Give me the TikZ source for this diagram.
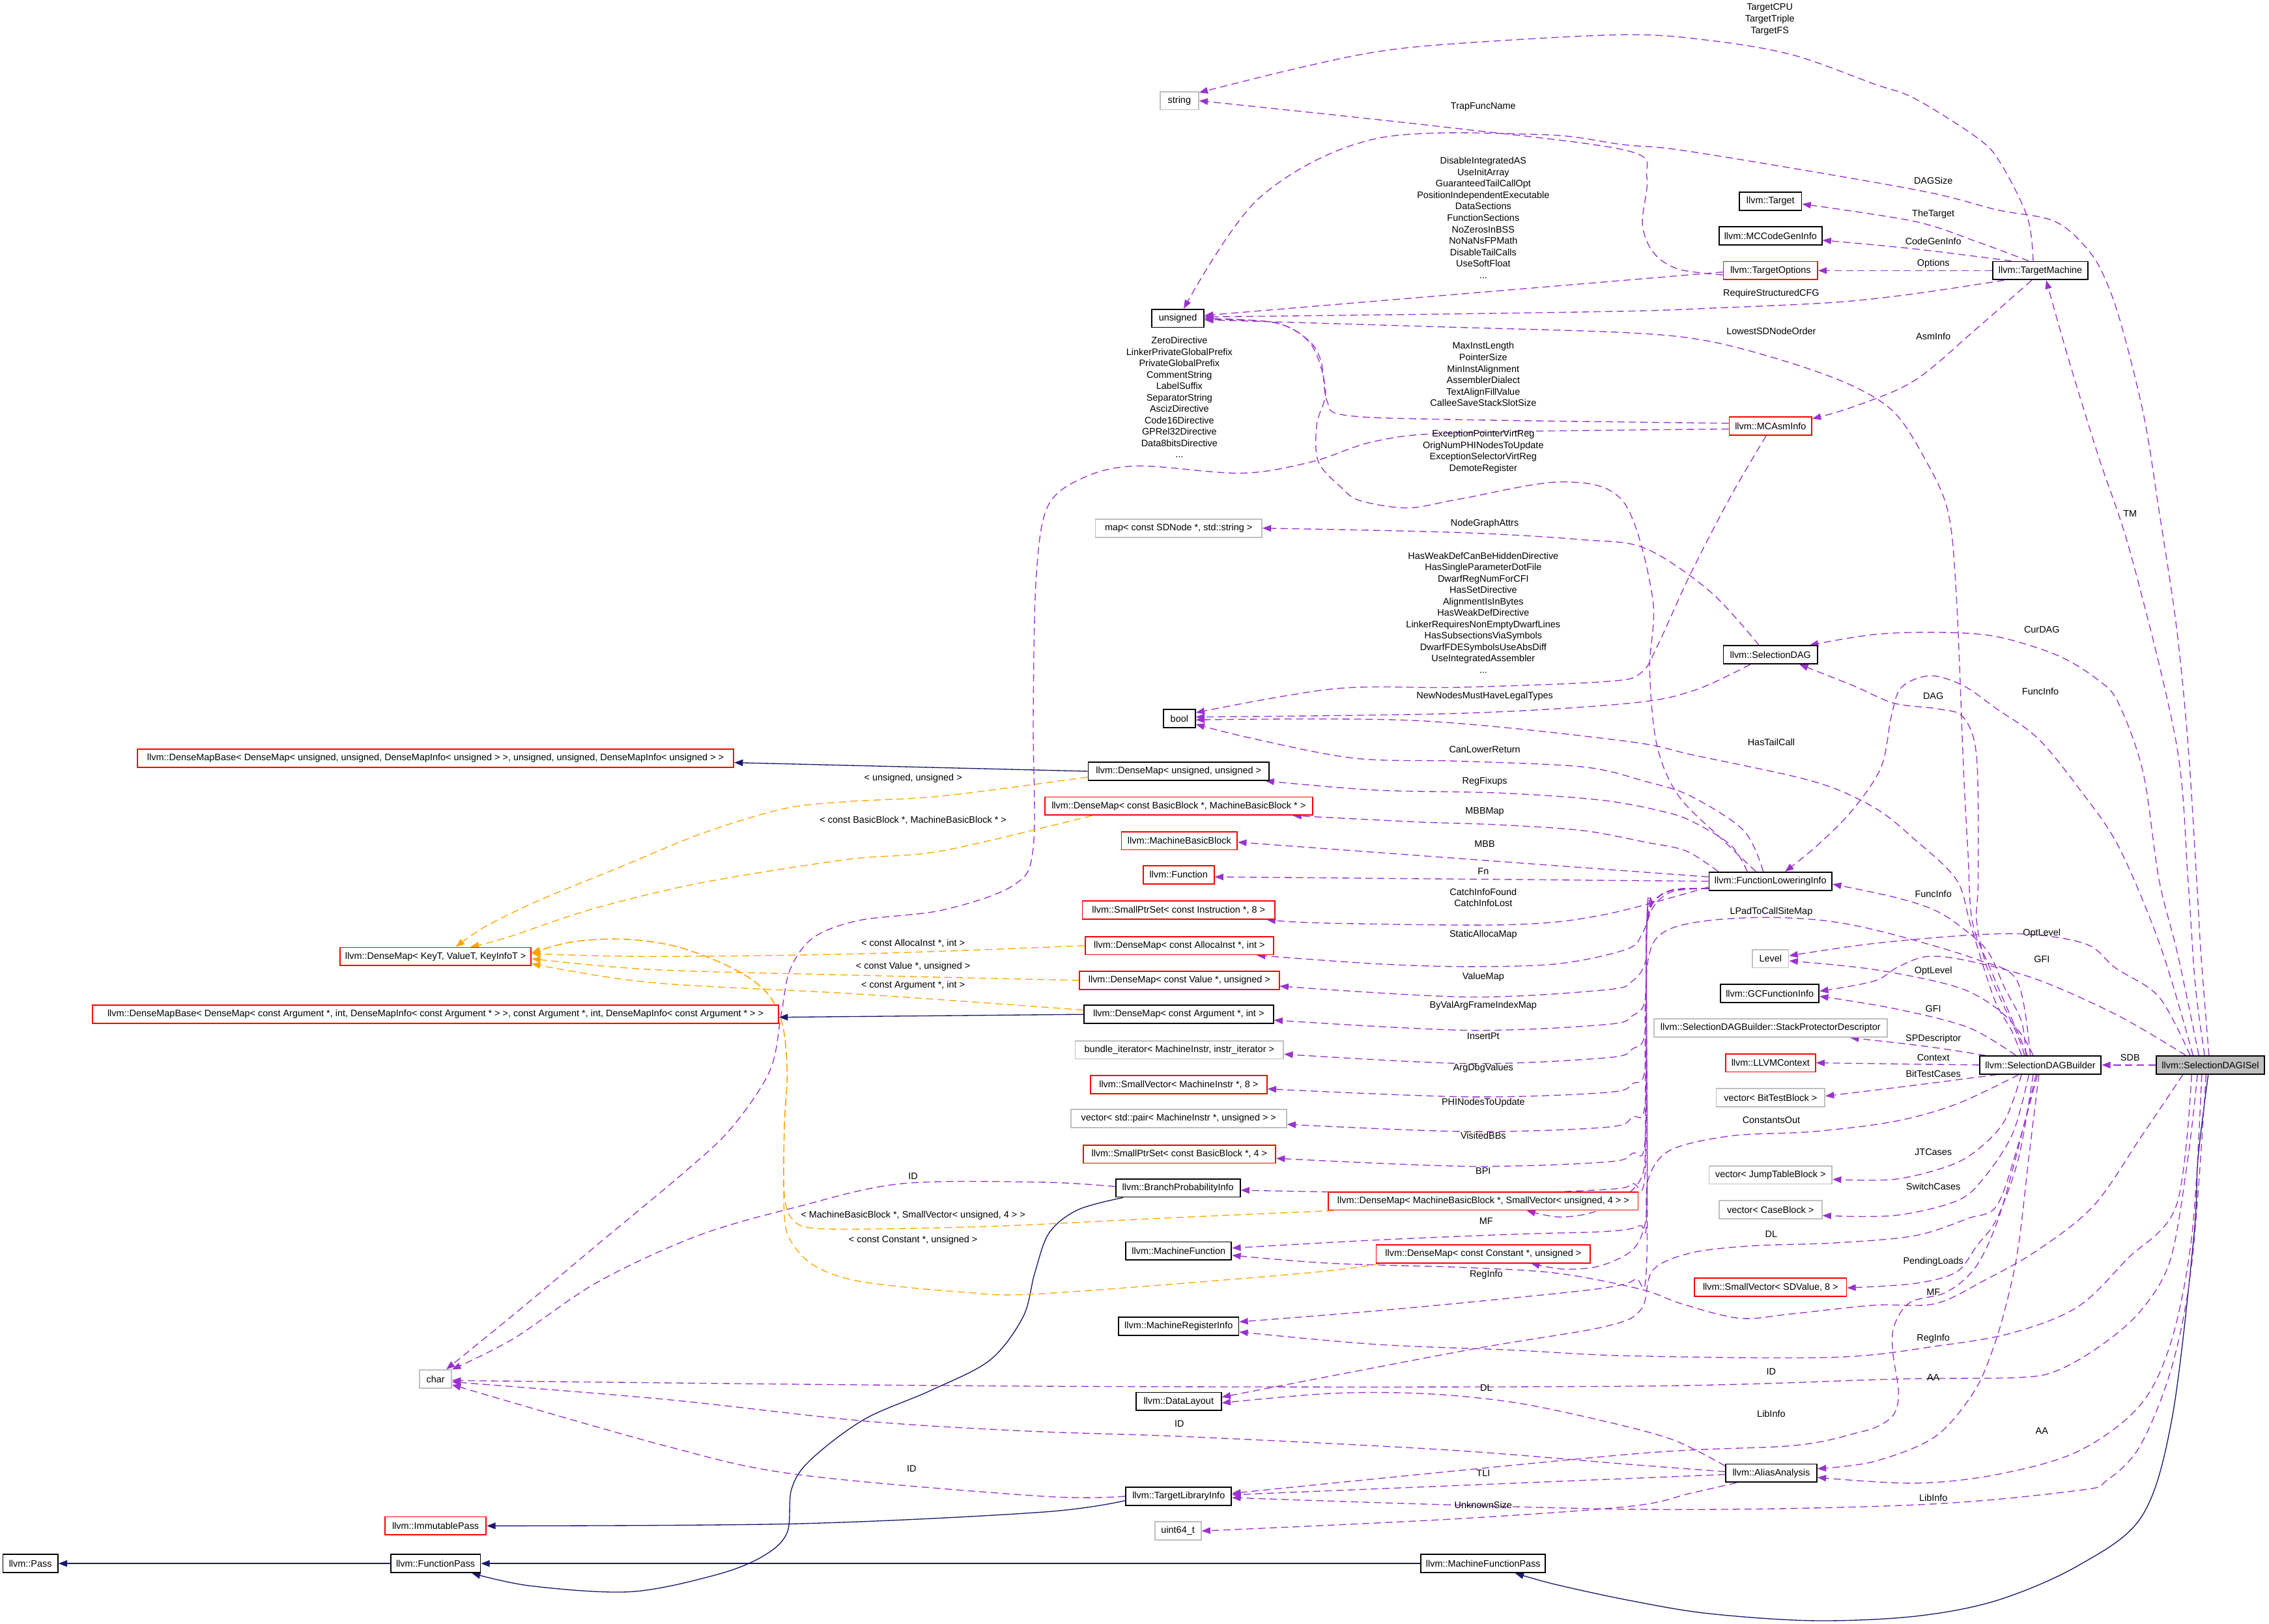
\documentclass[tikz,border=0pt]{standalone}
\usepackage{fontspec}
\setmainfont{Liberation Sans}
\usetikzlibrary{arrows.meta}
\definecolor{depc}{HTML}{9A32CD}
\definecolor{tplc}{HTML}{FFA500}
\definecolor{inhc}{HTML}{191970}
\definecolor{grayb}{HTML}{BFBFBF}
\definecolor{redb}{HTML}{FF0000}
\newcommand\dgfont{\fontsize{6.5}{7.9}\selectfont}
\pgfdeclarelayer{bg}
\pgfsetlayers{bg,main}
\begin{document}
\begin{tikzpicture}[x=1pt,y=-1pt,
 box/.style={draw=black,fill=white,line width=0.8pt,minimum height=12.5pt,inner xsep=1pt,inner ysep=0pt,font=\dgfont},
 rbox/.style={box,draw=redb},
 gbox/.style={box,draw=grayb},
 lbl/.style={font=\dgfont,inner sep=0pt,align=center},
 dep/.style={draw=depc,line width=0.6pt,dash pattern=on 5pt off 3pt,-{Triangle[length=6pt,width=4.5pt]}},
 tpl/.style={dep,draw=tplc},
 inh/.style={draw=inhc,line width=0.6pt,-{Triangle[length=6pt,width=4.5pt]}},
 sm/.style={smooth,tension=0.55}]
\useasboundingbox (0,0) rectangle (1568,1122);
% ---------------- nodes
\node[gbox,minimum width=26.5pt] (str) at (815,69.6) {string};
\node[box,minimum width=43pt] (tgt) at (1223.5,139) {llvm::Target};
\node[box,minimum width=71pt] (mcg) at (1223.5,163) {llvm::MCCodeGenInfo};
\node[rbox,minimum width=65pt] (topt) at (1223.5,187) {llvm::TargetOptions};
\node[box,minimum width=66pt] (tm) at (1410,187) {llvm::TargetMachine};
\node[box,minimum width=36pt] (uns) at (814,220) {unsigned};
\node[rbox,minimum width=57pt] (mcasm) at (1223.5,294.5) {llvm::MCAsmInfo};
\node[gbox,minimum width=115pt] (map) at (814.5,365) {map< const SDNode *, std::string >};
\node[box,minimum width=65pt] (sdag) at (1223.5,452.5) {llvm::SelectionDAG};
\node[box,minimum width=22pt] (bool) at (815,496.5) {bool};
\node[rbox,minimum width=412pt] (dmbu) at (301,524) {llvm::DenseMapBase< DenseMap< unsigned, unsigned, DenseMapInfo< unsigned > >, unsigned, unsigned, DenseMapInfo< unsigned > >};
\node[box,minimum width=125pt] (dmuu) at (814.5,533) {llvm::DenseMap< unsigned, unsigned >};
\node[rbox,minimum width=185pt] (dmbb) at (814.5,557) {llvm::DenseMap< const BasicBlock *, MachineBasicBlock * >};
\node[rbox,minimum width=80pt] (mbb) at (815,581) {llvm::MachineBasicBlock};
\node[rbox,minimum width=49pt] (func) at (814.5,604.5) {llvm::Function};
\node[rbox,minimum width=133pt] (spi) at (814.5,629) {llvm::SmallPtrSet< const Instruction *, 8 >};
\node[rbox,minimum width=130pt] (dma) at (815,653.5) {llvm::DenseMap< const AllocaInst *, int >};
\node[rbox,minimum width=138pt] (dmv) at (815,677.5) {llvm::DenseMap< const Value *, unsigned >};
\node[box,minimum width=131pt] (dmarg) at (814.5,701) {llvm::DenseMap< const Argument *, int >};
\node[gbox,minimum width=144pt] (bund) at (815,725.5) {bundle\_iterator< MachineInstr, instr\_iterator >};
\node[rbox,minimum width=122pt] (svmi) at (814.5,749.5) {llvm::SmallVector< MachineInstr *, 8 >};
\node[gbox,minimum width=149pt] (vpair) at (814.5,773) {vector< std::pair< MachineInstr *, unsigned > >};
\node[rbox,minimum width=133pt] (spbb) at (815,797.5) {llvm::SmallPtrSet< const BasicBlock *, 4 >};
\node[box,minimum width=86pt] (bpi) at (814,821) {llvm::BranchProbabilityInfo};
\node[rbox,minimum width=214pt] (dmmbb) at (1025,830) {llvm::DenseMap< MachineBasicBlock *, SmallVector< unsigned, 4 > >};
\node[box,minimum width=73pt] (mf) at (814.5,864.5) {llvm::MachineFunction};
\node[rbox,minimum width=148pt] (dcst) at (1025,866.5) {llvm::DenseMap< const Constant *, unsigned >};
\node[box,minimum width=83pt] (mri) at (814.5,916.5) {llvm::MachineRegisterInfo};
\node[box,minimum width=59pt] (dl) at (814.5,968.5) {llvm::DataLayout};
\node[gbox,minimum width=22pt] (chr) at (301,953) {char};
\node[rbox,minimum width=70pt] (imm) at (301,1054.5) {llvm::ImmutablePass};
\node[box,minimum width=38pt] (pass) at (21,1080.5) {llvm::Pass};
\node[box,minimum width=62pt] (fp) at (301,1080.5) {llvm::FunctionPass};
\node[box,minimum width=73pt] (tli) at (814.5,1034) {llvm::TargetLibraryInfo};
\node[gbox,minimum width=32pt] (u64) at (814,1058) {uint64\_t};
\node[box,minimum width=86pt] (mfp) at (1025,1080.5) {llvm::MachineFunctionPass};
\node[box,minimum width=85pt] (fli) at (1223.5,609) {llvm::FunctionLoweringInfo};
\node[gbox,minimum width=25pt] (lvl) at (1223.5,662.5) {Level};
\node[box,minimum width=68pt] (gcfi) at (1223,686.5) {llvm::GCFunctionInfo};
\node[gbox,minimum width=161pt] (spd) at (1223.5,710.5) {llvm::SelectionDAGBuilder::StackProtectorDescriptor};
\node[rbox,minimum width=62pt] (ctx) at (1223.5,734.5) {llvm::LLVMContext};
\node[box,minimum width=84pt] (sdb) at (1410,736) {llvm::SelectionDAGBuilder};
\node[box,fill=grayb,minimum width=75pt] (isel) at (1527.5,736) {llvm::SelectionDAGISel};
\node[gbox,minimum width=75pt] (btb) at (1223.5,758.5) {vector< BitTestBlock >};
\node[gbox,minimum width=85pt] (jtb) at (1223.5,812) {vector< JumpTableBlock >};
\node[gbox,minimum width=71pt] (cb) at (1223.5,836) {vector< CaseBlock >};
\node[rbox,minimum width=105pt] (sdv) at (1223.5,889.5) {llvm::SmallVector< SDValue, 8 >};
\node[box,minimum width=63pt] (aa) at (1224,1018) {llvm::AliasAnalysis};
\node[rbox,minimum width=132pt] (keyt) at (301,661) {llvm::DenseMap< KeyT, ValueT, KeyInfoT >};
\node[rbox,minimum width=474pt] (dmba) at (301,701) {llvm::DenseMapBase< DenseMap< const Argument *, int, DenseMapInfo< const Argument * > >, const Argument *, int, DenseMapInfo< const Argument * > >};
% ---------------- labels
\node[lbl] (lTgtCPU) at (1223,13.5) {TargetCPU\\TargetTriple\\TargetFS};
\node[lbl] (lTrap) at (1025,74) {TrapFuncName};
\node[lbl] (lDAGSize) at (1336,125) {DAGSize};
\node[lbl] (lTheTarget) at (1336,148) {TheTarget};
\node[lbl] (lCGI) at (1336,166.5) {CodeGenInfo};
\node[lbl] (lOpt) at (1336,182) {Options};
\node[lbl] (lTOpts) at (1025,150.5) {DisableIntegratedAS\\UseInitArray\\GuaranteedTailCallOpt\\PositionIndependentExecutable\\DataSections\\FunctionSections\\NoZerosInBSS\\NoNaNsFPMath\\DisableTailCalls\\UseSoftFloat\\...};
\node[lbl] (lRSCFG) at (1224,203) {RequireStructuredCFG};
\node[lbl] (lLSDN) at (1224,229) {LowestSDNodeOrder};
\node[lbl] (lAsm) at (1336,232.5) {AsmInfo};
\node[lbl] (lMCU) at (1025,258.7) {MaxInstLength\\PointerSize\\MinInstAlignment\\AssemblerDialect\\TextAlignFillValue\\CalleeSaveStackSlotSize};
\node[lbl] (lMCC) at (815,274.6) {ZeroDirective\\LinkerPrivateGlobalPrefix\\PrivateGlobalPrefix\\CommentString\\LabelSuffix\\SeparatorString\\AscizDirective\\Code16Directive\\GPRel32Directive\\Data8bitsDirective\\...};
\node[lbl] (lFLIU) at (1025,312) {ExceptionPointerVirtReg\\OrigNumPHINodesToUpdate\\ExceptionSelectorVirtReg\\DemoteRegister};
\node[lbl] (lTM) at (1472,355) {TM};
\node[lbl] (lNGA) at (1026,362) {NodeGraphAttrs};
\node[lbl] (lMCB) at (1025,423.4) {HasWeakDefCanBeHiddenDirective\\HasSingleParameterDotFile\\DwarfRegNumForCFI\\HasSetDirective\\AlignmentIsInBytes\\HasWeakDefDirective\\LinkerRequiresNonEmptyDwarfLines\\HasSubsectionsViaSymbols\\DwarfFDESymbolsUseAbsDiff\\UseIntegratedAssembler\\...};
\node[lbl] (lCurDAG) at (1411,435) {CurDAG};
\node[lbl] (lFI1) at (1410,478) {FuncInfo};
\node[lbl] (lDAG) at (1336,481) {DAG};
\node[lbl] (lNNM) at (1026,481) {NewNodesMustHaveLegalTypes};
\node[lbl] (lHTC) at (1224,513) {HasTailCall};
\node[lbl] (lCLR) at (1026,518) {CanLowerReturn};
\node[lbl] (lRF) at (1026,540) {RegFixups};
\node[lbl] (tUU) at (631,538) {< unsigned, unsigned >};
\node[lbl] (lMBBMap) at (1026,561) {MBBMap};
\node[lbl] (tBB) at (631,567) {< const BasicBlock *, MachineBasicBlock * >};
\node[lbl] (lMBB) at (1026,583) {MBB};
\node[lbl] (lFn) at (1025,602) {Fn};
\node[lbl] (lFI2) at (1336,618) {FuncInfo};
\node[lbl] (lCIF) at (1025,620.3) {CatchInfoFound\\CatchInfoLost};
\node[lbl] (lLPad) at (1224,630) {LPadToCallSiteMap};
\node[lbl] (lSAM) at (1025,646) {StaticAllocaMap};
\node[lbl] (lOL1) at (1411,645) {OptLevel};
\node[lbl] (tAI) at (631,652) {< const AllocaInst *, int >};
\node[lbl] (lGFI1) at (1411,663) {GFI};
\node[lbl] (tV) at (631,668) {< const Value *, unsigned >};
\node[lbl] (lOL2) at (1336,671) {OptLevel};
\node[lbl] (lVM) at (1025,675) {ValueMap};
\node[lbl] (tArg) at (631,681) {< const Argument *, int >};
\node[lbl] (lBVA) at (1025,695) {ByValArgFrameIndexMap};
\node[lbl] (lGFI2) at (1336,697) {GFI};
\node[lbl] (lIP) at (1025,716) {InsertPt};
\node[lbl] (lSPD) at (1336,718) {SPDescriptor};
\node[lbl] (lCtx) at (1336,731) {Context};
\node[lbl] (lSDB) at (1472,731) {SDB};
\node[lbl] (lADV) at (1025,738) {ArgDbgValues};
\node[lbl] (lBTC) at (1336,742) {BitTestCases};
\node[lbl] (lPHI) at (1025,762) {PHINodesToUpdate};
\node[lbl] (lCO) at (1224,774) {ConstantsOut};
\node[lbl] (lVBB) at (1025,785) {VisitedBBs};
\node[lbl] (lJT) at (1336,796) {JTCases};
\node[lbl] (lBPI) at (1025,809) {BPI};
\node[lbl] (lID1) at (631,813) {ID};
\node[lbl] (lSC) at (1336,820) {SwitchCases};
\node[lbl] (tMBB) at (631,840) {< MachineBasicBlock *, SmallVector< unsigned, 4 > >};
\node[lbl] (lMF1) at (1027,844) {MF};
\node[lbl] (lDL1) at (1224,853) {DL};
\node[lbl] (tCst) at (631,857) {< const Constant *, unsigned >};
\node[lbl] (lPL) at (1336,872) {PendingLoads};
\node[lbl] (lRI1) at (1027,881) {RegInfo};
\node[lbl] (lMF2) at (1336,893) {MF};
\node[lbl] (lRI2) at (1336,925) {RegInfo};
\node[lbl] (lID2) at (1224,948) {ID};
\node[lbl] (lAA1) at (1336,952) {AA};
\node[lbl] (lDL2) at (1027,959) {DL};
\node[lbl] (lLI1) at (1224,977) {LibInfo};
\node[lbl] (lID3) at (815,984) {ID};
\node[lbl] (lAA2) at (1411,989) {AA};
\node[lbl] (lID4) at (630,1015) {ID};
\node[lbl] (lTLI) at (1025,1018) {TLI};
\node[lbl] (lLI2) at (1336,1035) {LibInfo};
\node[lbl] (lUS) at (1025,1040) {UnknownSize};
% ---------------- edges
\begin{pgfonlayer}{bg}
\fill[white] (0,0) rectangle (1568,1122);
% TargetMachine
\draw[dep] plot[sm] coordinates {([xshift=-5pt]tm.north) (1401,150) (1382,112) (1366,95) (1323,68) (1295,58) (1239,38) (1182,28) (1122,24) (1008,30) (950,36) (893,48) ([yshift=-1pt]str.north east)};
\draw[dep] plot[sm] coordinates {([xshift=-8pt]tm.north) (1366,167) (1323,153) ([yshift=-2pt]tgt.east)};
\draw[dep] plot[sm] coordinates {([xshift=-20pt]tm.north) (1323,172) ([yshift=-3pt]mcg.east)};
\draw[dep] (tm.west) -- (topt.east);
\draw[dep] plot[sm] coordinates {([xshift=-25pt]tm.south) (1323,203) (1267,209) (1182,213) (1126,215) (1000,217) ([yshift=1pt]uns.east)};
\draw[dep] plot[sm] coordinates {([xshift=-6pt]tm.south) (1366,227) (1323,263) (1281,281) ([yshift=-1.5pt]mcasm.north east)};
% TargetOptions
\draw[dep] plot[sm] coordinates {([yshift=-3pt]topt.west) (1160,186) (1143,175) (1135,155) (1138,122) (1124,104) (1000,88) (str.east)};
\draw[dep] ([yshift=-1pt]topt.west) -- ([yshift=2pt]uns.east);
% SelectionDAGISel top
\draw[dep] plot[sm] coordinates {([xshift=-1pt]isel.north) (1521,660) (1518,608) (1512,514) (1504,433) (1492,353) (1482,290) (1468,232) (1457,198) (1444,174) (1420,153) (1380,145) (1323,131) (1170,105) (1122,100) (1065,93) (950,96) (870,137) ([xshift=4pt]uns.north)};
\draw[dep] plot[sm] coordinates {([xshift=-4pt]isel.north) (1517,680) (1512,608) (1504,514) (1473,385) (1450,315) (1430,250) ([xshift=4pt]tm.south)};
\draw[dep] plot[sm] coordinates {([xshift=-8pt]isel.north) (1505,660) (1492,608) (1481,534) (1464,486) (1450,470) (1422,453) (1380,440) (1340,437) (1295,438.5) ([xshift=27pt]sdag.north)};
\draw[dep] plot[sm] coordinates {([xshift=-12pt]isel.north) (1493,654) (1464,585) (1436,544) (1408,510) (1380,490) (1357,474) (1334,467) (1314,475) (1307,495) (1300,530) (1280,560) (1255,585) ([xshift=10pt]fli.north)};
\draw[dep] plot[sm] coordinates {([xshift=-14pt]isel.north) (1492,689) (1462,669) (1443,653) (1407,646) (1365,646) (1295,652) ([yshift=2pt]lvl.east)};
\draw[dep] plot[sm] coordinates {([xshift=-17pt]isel.north) (1464,702) (1408,677) (1360,664) (1332,661) (1312,668) (1295,678) ([yshift=1.5pt]gcfi.east)};
\draw[dep] (isel.west) -- (sdb.east);
% SelectionDAGISel bottom
\draw[inh] plot[sm] coordinates {([xshift=-1.5pt]isel.south) (1519,800) (1516,855) (1501,980) (1480,1048) (1436,1082) (1380,1106) (1323,1117) (1253,1120) (1180,1115) (1126,1106) (1075,1095) ([xshift=22pt]mfp.south)};
\draw[dep] plot[sm] coordinates {([xshift=-9pt]isel.south) (1512,800) (1500,870) (1480,905) (1453,929) (1422,947) (1394,952) (1312,953) (1126,958) (720,958) ([yshift=-1pt]chr.east)};
\draw[dep] plot[sm] coordinates {([xshift=-6pt]isel.south) (1515,851) (1501,925) (1479,971) (1436,1003) (1380,1019) (1323,1025) ([yshift=-3pt]aa.east)};
\draw[dep] plot[sm] coordinates {([xshift=-3pt]isel.south) (1515,870) (1501,944) (1479,999) (1456,1023) (1436,1030) (1323,1040) (1126,1043) ([yshift=-1pt]tli.east)};
\draw[dep] plot[sm] coordinates {([xshift=-13pt]isel.south) (1504,833) (1470,870) (1436,903) (1391,921) (1340,930) (1267,938) (1126,937) (1045,933) (950,929) ([yshift=-4pt]mri.east)};
\draw[dep] plot[sm] coordinates {([xshift=-19pt]isel.south) (1480,785) (1447,833) (1408,864) (1371,885) (1337,901) (1295,902) (1238,908) (1202,911) (1162,901) (1134,891) (1077,880) (1014,876) (919,873) ([yshift=-3pt]mf.east)};
% SelectionDAGBuilder top
\draw[dep] plot[sm] coordinates {([xshift=-10pt]sdb.north) (1397,706) (1385,682) (1374,658) (1357,642) (1337,629) (1309,620) ([yshift=-2pt]fli.east)};
\draw[dep] plot[sm] coordinates {([xshift=-11pt]sdb.north) (1394,715) (1374,671) (1366,637) (1367,608) (1366,524) (1357,496) (1340,490) (1309,486) (1281,474) ([xshift=20pt]sdag.south)};
\draw[dep] plot[sm] coordinates {([xshift=-9pt]sdb.north) (1395,715) (1376,671) (1363,637) (1360,590) (1357,534) (1352,413) (1346,353) (1329,315) (1309,285) (1281,267) (1238,251) (1182,236) (1126,230) (1000,226) ([yshift=-1pt]uns.east)};
\draw[dep] plot[sm] coordinates {([xshift=-13pt]sdb.north) (1390,712) (1378,690) (1362,640) (1352,608) (1323,580) (1295,558) (1253,540) (1171,522) (1122,512) (979,498) ([yshift=-1pt]bool.east)};
\draw[dep] plot[sm] coordinates {([xshift=-7pt]sdb.north) (1394,678) (1366,663) (1309,646) (1267,637) (1224,634) (1182,636) (1154,642) (1141,655) (1137,690) (1137,780) (1135,812) (1121,828) (1100,838) (1077,841) ([xshift=30pt]dmmbb.south)};
\draw[dep] plot[sm] coordinates {([xshift=-5pt]sdb.north) (1397,715) (1380,697) (1352,682) (1295,670) ([yshift=-1.5pt]lvl.east)};
\draw[dep] plot[sm] coordinates {([xshift=-17pt]sdb.north) (1360,710) (1309,697) ([yshift=-2pt]gcfi.east)};
\draw[dep] plot[sm] coordinates {([xshift=-38pt]sdb.north) (1330,723) ([xshift=55pt]spd.south)};
\draw[dep] (sdb.west) -- (ctx.east);
% SelectionDAGBuilder bottom
\draw[dep] plot[sm] coordinates {([xshift=-30pt]sdb.south) (1323,750) ([yshift=1pt]btb.east)};
\draw[dep] plot[sm] coordinates {([xshift=-13pt]sdb.south) (1385,775) (1366,795) (1346,806) (1309,815) ([yshift=-3pt]jtb.east)};
\draw[dep] plot[sm] coordinates {([xshift=-8pt]sdb.south) (1391,783) (1371,814) (1352,830) (1309,840) ([yshift=-4pt]cb.east)};
\draw[dep] plot[sm] coordinates {([xshift=-15pt]sdb.south) (1352,763) (1309,775) (1253,782) (1196,785) (1154,795) (1139,815) (1137,845) (1128,864) (1105,875) (1080,877) ([xshift=33pt]dcst.south)};
\draw[dep] plot[sm] coordinates {([xshift=-2pt]sdb.south) (1395,790) (1380,833) (1360,842) (1323,854) (1267,859) (1210,861) (1168,866) (1142,878) (1134,905) (1108,917) (1014,933) ([yshift=3pt]dl.east)};
\draw[dep] plot[sm] coordinates {([xshift=-5pt]sdb.south) (1395,800) (1380,842) (1366,861) (1352,879) (1323,887) ([yshift=-0.5pt]sdv.east)};
\draw[dep] plot[sm] coordinates {([xshift=-1pt]sdb.south) (1402,800) (1395,860) (1388,895) (1378,930) (1364,962) (1337,993) (1295,1010) ([yshift=3pt]aa.east)};
\draw[dep] plot[sm] coordinates {([xshift=-3pt]sdb.south) (1393,800) (1380,845) (1365,876) (1345,893) (1320,900) (1309,916) (1308,934) (1312,962) (1309,977) (1299,985) (1284,990) (1239,999) (1126,1005) ([yshift=2pt]tli.east)};
% FunctionLoweringInfo top
\draw[dep] plot[sm] coordinates {([xshift=-10pt]fli.north) (1190,580) (1160,550) (1145,515) (1140,463) (1142,413) (1122,347) (1080,333) (1008,345) (973,351) (940,346) (927,337) (911,319) (910,293) (916,270) (906,238) (881,223) ([yshift=-1pt]uns.east)};
\draw[dep] plot[sm] coordinates {([xshift=-5pt]fli.north) (1205,574) (1168,550) (1137,540) (1094,530) (1008,526) (936,524) (864,510) ([yshift=-4pt]bool.east)};
\draw[dep] plot[sm] coordinates {([xshift=-16pt]fli.north) (1196,584) (1170,568) (1150,561) (1107,553) (1036,548) (950,546) ([xshift=-3pt]dmuu.south east)};
\draw[dep] plot[sm] coordinates {([xshift=-36pt]fli.north) (1165,588) (1137,582) (1094,574) (1036,570) (979,568) ([xshift=-14pt]dmbb.south east)};
\draw[dep] ([yshift=3pt]fli.west) -- ([yshift=-1pt]mbb.east);
\draw[dep] (fli.west) -- ([yshift=-1.5pt]func.east);
\draw[dep] plot[sm] coordinates {([yshift=-4pt]fli.west) (1109,632) (1045,639) (919,638) ([xshift=-6pt]spi.south east)};
% FunctionLoweringInfo bundle
\draw[dep] plot[sm] coordinates {([yshift=-5pt]fli.west) (1156,616) (1143,626) (1135,645) (1124,656) (1077,666) (1014,668) (950,666) ([xshift=-12pt]dma.south east)};
\draw[dep] plot[sm] coordinates {([yshift=-5pt]fli.west) (1156,615) (1143,623) (1138,640) (1137,665) (1128,678) (1110,684) (1014,689) ([yshift=-4pt]dmv.east)};
\draw[dep] plot[sm] coordinates {([yshift=-5pt]fli.west) (1156,615) (1143,623) (1138,640) (1137,690) (1128,702) (1110,708) (1014,712) ([yshift=-4pt]dmarg.east)};
\draw[dep] plot[sm] coordinates {([yshift=-5pt]fli.west) (1156,615) (1143,623) (1138,640) (1137,712) (1128,725) (1110,731) (1014,735) ([yshift=-3pt]bund.east)};
\draw[dep] plot[sm] coordinates {([yshift=-5pt]fli.west) (1156,615) (1143,623) (1138,640) (1137,736) (1128,749) (1110,755) (1014,758) ([yshift=-3pt]svmi.east)};
\draw[dep] plot[sm] coordinates {([yshift=-5pt]fli.west) (1156,615) (1143,623) (1138,640) (1137,760) (1128,772) (1110,779) (1014,782) ([yshift=-4pt]vpair.east)};
\draw[dep] plot[sm] coordinates {([yshift=-5pt]fli.west) (1156,615) (1143,623) (1138,640) (1137,785) (1128,797) (1110,803) (1014,806) ([yshift=-3pt]spbb.east)};
\draw[dep] plot[sm] coordinates {([yshift=-5pt]fli.west) (1156,615) (1143,623) (1138,640) (1137,808) (1128,818) (1110,822) (1014,825) ([yshift=-1.5pt]bpi.east)};
\draw[dep] plot[sm] coordinates {([yshift=-5pt]fli.west) (1156,615) (1143,623) (1138,640) (1138,835) (1133,847) (1110,851) (1045,853) (950,857) ([yshift=2pt]mf.east)};
\draw[dep] plot[sm] coordinates {([yshift=-5pt]fli.west) (1156,615) (1143,623) (1138,640) (1138,870) (1130,884) (1109,890) (1045,897) (950,906) ([yshift=3pt]mri.east)};
% SelectionDAG
\draw[dep] plot[sm] coordinates {([xshift=-8pt]sdag.north) (1182,409) (1137,379) (1094,373) (1008,368) (map.east)};
\draw[dep] plot[sm] coordinates {([xshift=-14pt]sdag.south) (1171,477) (1126,486) (1008,493) ([yshift=1pt]bool.east)};
% MCAsmInfo
\draw[dep] plot[sm] coordinates {([yshift=2pt]mcasm.west) (1008,290) (930,287) (917,277) (913,250) (904,235) (881,223) (uns.east)};
\draw[dep] plot[sm] coordinates {([yshift=-2pt]mcasm.west) (1008,299) (950,305) (907,319) (858,327) (786,322) (749,330) (724,350) (716,400) (714,495) (714,586) (700,612) (651,629) (594,636) (562,648) (546,670) (540,700) (532,740) (505,780) (473,810) (413,860) (358,906) ([xshift=-4pt]chr.north east)};
\draw[dep] plot[sm] coordinates {([xshift=-3pt]mcasm.south) (1196,343) (1168,397) (1146,445) (1134,465) (1110,471) (1008,475) (922,476) ([yshift=4pt]bool.east)};
% BranchProbabilityInfo
\draw[dep] plot[sm] coordinates {([yshift=1pt]bpi.west) (720,817) (623,818) (551,834) (482,854) (413,886) (355,925) (chr.north east)};
\draw[inh] plot[sm] coordinates {([xshift=-38pt]bpi.south) (745,836) (725,852) (715,880) (707,910) (684,940) (643,961) (597,981) (560,1009) (547,1029) (544,1059) (528,1075) (496,1088) (436,1100) (367,1096) ([xshift=25pt]fp.south)};
% AliasAnalysis
\draw[dep] plot[sm] coordinates {([yshift=1pt]aa.west) (1126,1012) (1000,1002) (824,993) (710,989) (597,982) (459,967) ([yshift=-2pt]chr.east)};
\draw[dep] plot[sm] coordinates {([yshift=5pt]aa.west) (1156,995) (1108,982) (1045,969) (982,963) (919,963) ([yshift=-1pt]dl.east)};
\draw[dep] ([yshift=-1pt]aa.west) -- ([yshift=1pt]tli.east);
\draw[dep] plot[sm] coordinates {([xshift=-24pt]aa.south) (1168,1032) (1126,1041) (1000,1050) (u64.east)};
% TargetLibraryInfo
\draw[dep] plot[sm] coordinates {(tli.west) (720,1034) (551,1019) (459,999) ([yshift=-4pt]chr.east)};
\draw[inh] plot[sm] coordinates {([yshift=-3pt]tli.west) (720,1045) (551,1053) (imm.east)};
% passes
\draw[inh] (mfp.west) -- (fp.east);
\draw[inh] (fp.west) -- (pass.east);
% DenseMap inheritance
\draw[inh] (dmuu.west) -- ([yshift=-3pt]dmbu.east);
\draw[inh] (dmarg.west) -- ([yshift=-2pt]dmba.east);
% template instances
\draw[tpl] plot[sm] coordinates {([yshift=-4pt]dmuu.west) (652,550) (585,554) (541,559) (485,576) (429,599) (373,622) (336,640) ([xshift=14pt]keyt.north)};
\draw[tpl] plot[sm] coordinates {([xshift=33pt]dmbb.south west) (651,588) (585,594) (485,610) (410,628) (350,648) ([xshift=24pt]keyt.north)};
\draw[tpl] plot[sm] coordinates {(dma.west) (600,659) (450,661) ([yshift=2pt]keyt.east)};
\draw[tpl] plot[sm] coordinates {(dmv.west) (594,674) (450,670) ([yshift=-1.5pt]keyt.east)};
\draw[tpl] plot[sm] coordinates {([yshift=3pt]dmarg.west) (594,687) (450,679) ([yshift=-5pt]keyt.east)};
\draw[tpl] plot[sm] coordinates {([xshift=4pt]dmmbb.south west) (800,842) (698,847) (623,849) (565,849) (548,843) (542,825) (542,779) (544,740) (540,705) (528,684) (504,668) (467,654) (430,649) (395,651) ([yshift=2.5pt]keyt.east)};
\draw[tpl] plot[sm] coordinates {([xshift=3pt]dcst.south west) (900,880) (720,894) (666,893) (597,886) (565,876) (548,860) (542,840) (542,779) (544,740) (540,705) (528,684) (504,668) (467,654) (430,649) (395,651) ([yshift=2.5pt]keyt.east)};
\end{pgfonlayer}
\end{tikzpicture}
\end{document}
